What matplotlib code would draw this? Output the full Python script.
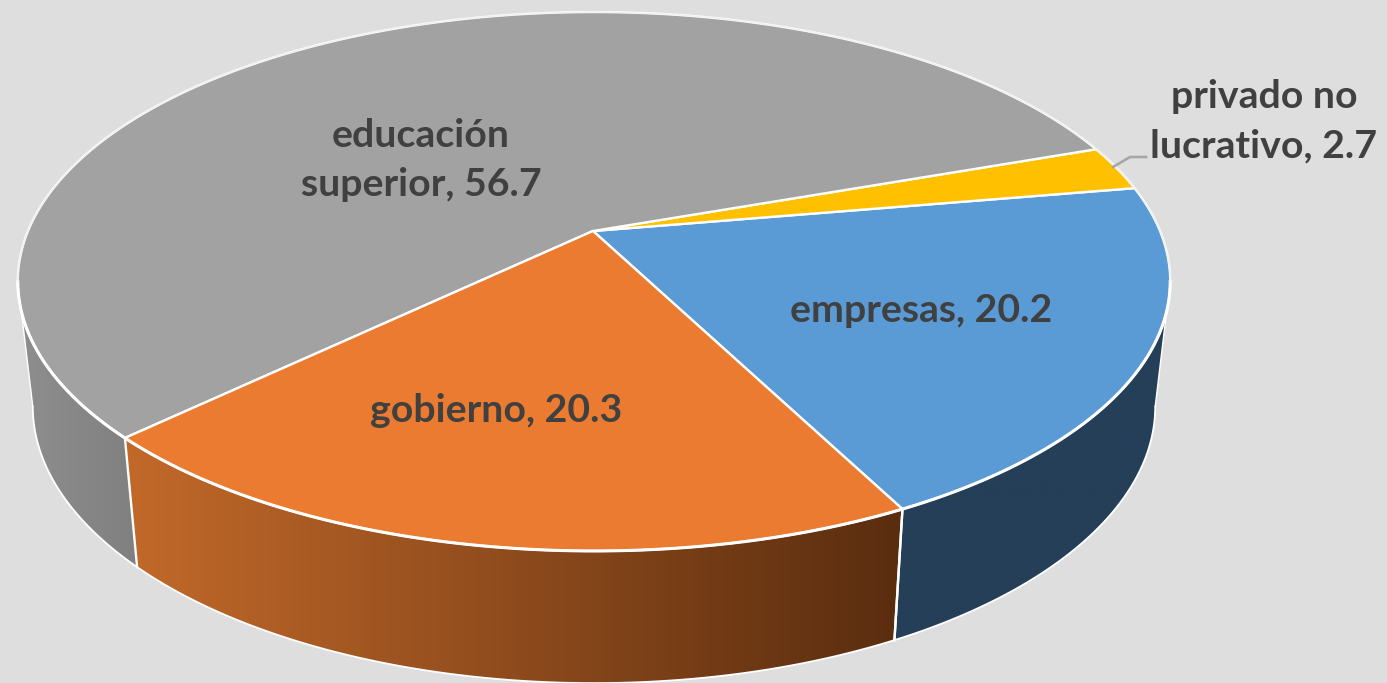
import numpy as np
import matplotlib
matplotlib.use("Agg")
import matplotlib.pyplot as plt
from matplotlib.patches import Polygon
from matplotlib.colors import LinearSegmentedColormap

# Data (in the order they run round the pie, starting at the front right)
sectors = ["empresas", "privado no\nlucrativo", "educación\nsuperior", "gobierno"]
shares = [20.2, 2.7, 56.7, 20.3]

# Styles
top_colors = ["#5b9bd5", "#ffc000", "#a2a2a2", "#ea7b30"]
side_colors = [("#243f57", "#243f57"), ("#7f6000", "#7f6000"),
               ("#8e8e8e", "#808080"), ("#c2692a", "#5a2d0f")]
label_xy = [(921, 310), (1264, 121), (421, 160), (496, 410)]
BG = "#dedede"
TXT = "#404040"

# Projection of the pie's disc on the canvas (pixel units)
CX, CY, AX_R, AY_R, PERSP = 594.0, 231.0, 566.0, 260.0, 0.1874
START = 27.0
XS, YS, YOFF = 0.974, 1.027, 123.5


def top_pt(phi):
    p = np.radians(phi)
    u, v = np.sin(p), np.cos(p)
    w = 1 - PERSP * v
    return CX + AX_R * u / w, CY + AY_R * v / w


def bot_pt(phi):
    x, y = top_pt(phi)
    return CX + XS * (x - CX), CY + YOFF + YS * (y - CY)


fig = plt.figure(figsize=(13.87, 6.83), dpi=100, facecolor=BG)
ax = fig.add_axes([0, 0, 1, 1])
ax.set_facecolor(BG)
ax.axis("off")

total = sum(shares)
edges = START + np.concatenate([[0], np.cumsum(shares)]) / total * 360.0
VIS = np.degrees(np.arccos(PERSP))

# side walls, from the visible arc only
for i, (a, b) in enumerate(zip(edges[:-1], edges[1:])):
    for off in (0, 360):
        lo, hi = max(a, off - VIS), min(b, off + VIS)
        if hi <= lo:
            continue
        ph = np.linspace(lo, hi, 120)
        tx, ty = top_pt(ph)
        bx, by = bot_pt(ph)
        poly = np.column_stack([np.r_[tx, bx[::-1]], np.r_[ty, by[::-1]]])
        x0, x1 = poly[:, 0].min(), poly[:, 0].max()
        y0, y1 = poly[:, 1].min(), poly[:, 1].max()
        patch = Polygon(poly, closed=True, fc="none", ec="none")
        ax.add_patch(patch)
        cmap = LinearSegmentedColormap.from_list("g", side_colors[i])
        im = ax.imshow(np.linspace(0, 1, 256)[None, :], cmap=cmap, vmin=0, vmax=1,
                       extent=(x0, x1, y1, y0), aspect="auto", zorder=2,
                       interpolation="bilinear")
        im.set_clip_path(patch)
        ax.plot(bx, by, color="white", lw=1.3, zorder=3, solid_capstyle="round")

# white seams on the side
for e in edges:
    phi = ((e + 180) % 360) - 180
    if abs(phi) < VIS:
        ax.plot([top_pt(phi)[0], bot_pt(phi)[0]], [top_pt(phi)[1], bot_pt(phi)[1]],
                color="white", lw=1.7, zorder=3)

# silhouette lines at both sides
for s in (-VIS, VIS):
    ax.plot([top_pt(s)[0], bot_pt(s)[0]], [top_pt(s)[1], bot_pt(s)[1]],
            color="white", lw=1.0, zorder=3)

# top wedges
for i, (a, b) in enumerate(zip(edges[:-1], edges[1:])):
    ph = np.linspace(a, b, 300)
    x, y = top_pt(ph)
    pts = np.column_stack([np.r_[CX - 1, x], np.r_[CY, y]])
    ax.add_patch(Polygon(pts, closed=True, fc=top_colors[i], ec="white",
                         lw=1.7, joinstyle="round", zorder=4))

# front rim is a little heavier, back rim thin and greyish
ph = np.linspace(-VIS, VIS, 400)
x, y = top_pt(ph)
ax.plot(x, y, color="white", lw=2.2, zorder=5)
ph = np.linspace(VIS, 360 - VIS, 400)
x, y = top_pt(ph)
ax.plot(x, y, color="#f0f0f0", lw=1.0, zorder=5)

# leader line for the small slice
ax.plot([1113, 1130, 1146], [167, 157, 157], color="#a6a6a6", lw=1.9, zorder=6)

for name, val, (lx, ly) in zip(sectors, shares, label_xy):
    ax.text(lx, ly, f"{name}, {val}", ha="center", va="center", multialignment="center",
            fontsize=28.3, fontweight="bold", family="Lato", color=TXT,
            linespacing=1.5, zorder=7)

ax.set_xlim(0, 1387)
ax.set_ylim(683, 0)
fig.savefig("out.png", dpi=100, facecolor=BG)
